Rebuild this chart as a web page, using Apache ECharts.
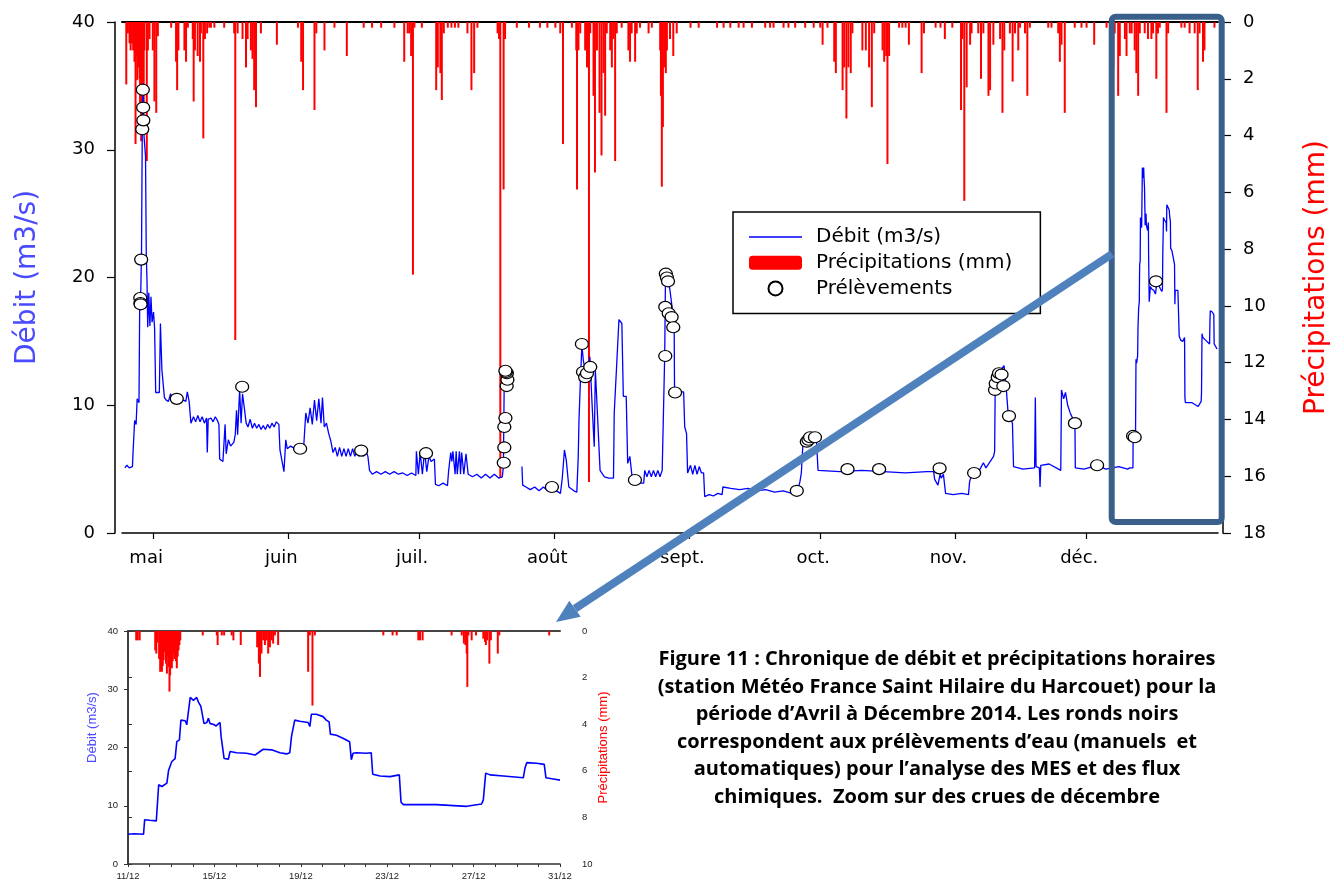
<!DOCTYPE html>
<html><head><meta charset="utf-8">
<script src="https://cdn.jsdelivr.net/npm/echarts@6/dist/echarts.min.js"></script>
<style>html,body{margin:0;padding:0;background:#fff}#c{width:1333px;height:882px}</style>
</head><body><div id="c"></div>
<script>
// ---------- DATA ----------
const monthNames = ['janv.','févr.','mars','avr.','mai','juin','juil.','août','sept.','oct.','nov.','déc.'];

// Débit (m3/s), April -> 10 December 2014, 'MM-DD HH'
const debitMain = [
['04-24 12',5.1],['04-25 00',5.3],['04-25 12',5.1],['04-26 06',5.2],['04-26 09',6.2],['04-26 18',8.8],['04-27 02',8.5],['04-27 08',10.5],['04-27 18',10.2],['04-27 22',18.0],['04-28 04',19.0],['04-28 08',22.0],['04-28 12',31.5],['04-28 16',35.2],['04-28 22',31.0],['04-29 06',29.5],['04-29 10',22.0],['04-29 14',19.8],['04-29 18',16.1],['04-30 00',18.8],['04-30 06',16.2],['04-30 12',18.5],['04-30 18',16.5],
['05-01 02',17.3],['05-01 08',16.0],['05-01 14',11.0],['05-01 20',10.9],['05-02 10',11.0],['05-02 16',16.4],['05-03 00',12.8],['05-03 14',10.6],['05-04 00',10.4],['05-04 12',10.3],['05-05 00',10.9],['05-05 12',10.3],['05-06 00',10.5],['05-06 12',10.2],['05-07 00',10.6],['05-07 12',10.3],['05-08 00',10.4],['05-08 12',10.3],['05-08 20',11.05],['05-09 06',10.3],['05-09 16',8.6],['05-10 06',9.1],['05-10 18',8.7],['05-11 06',9.2],['05-11 18',8.7],['05-12 06',9.1],['05-12 18',8.6],['05-13 06',9.0],['05-13 10',6.3],['05-13 15',8.9],['05-14 06',9.0],['05-14 18',8.7],['05-15 06',9.1],['05-15 18',8.8],['05-16 02',8.5],['05-16 06',5.8],['05-17 00',5.6],['05-17 08',5.5],['05-17 12',8.5],['05-17 18',6.2],['05-18 06',7.3],['05-18 18',6.8],['05-19 12',7.1],['05-19 20',7.7],['05-20 03',9.6],['05-20 09',7.7],['05-20 20',11.2],['05-21 04',8.6],['05-21 12',10.9],['05-21 20',10.0],['05-22 08',8.6],['05-22 18',8.3],['05-23 06',8.9],['05-23 18',8.2],['05-24 06',8.6],['05-24 18',8.2],['05-25 06',8.5],['05-25 18',8.1],['05-26 06',8.4],['05-26 18',8.1],['05-27 06',8.5],['05-27 18',8.2],['05-28 06',8.6],['05-28 18',8.3],['05-29 06',8.7],['05-29 20',8.5],['05-30 02',6.5],['05-30 12',6.4],['05-31 00',4.8],['05-31 10',7.3],['05-31 18',6.6],
['06-01 12',6.8],['06-02 12',6.6],['06-03 12',6.7],['06-04 12',6.6],['06-05 00',9.4],['06-05 12',8.6],['06-06 00',9.8],['06-06 12',8.5],['06-07 00',10.4],['06-07 12',8.8],['06-08 00',10.5],['06-08 12',8.6],['06-08 20',10.6],['06-09 06',8.3],['06-09 18',8.6],['06-10 06',7.8],['06-10 18',7.2],['06-11 06',6.3],['06-11 18',6.7],['06-12 06',6.0],['06-12 18',6.7],['06-13 06',6.0],['06-13 18',6.6],['06-14 06',6.0],['06-14 18',6.6],['06-15 06',6.0],['06-15 18',6.6],['06-16 06',6.0],['06-16 18',6.5],['06-17 06',6.0],['06-17 18',6.5],['06-18 06',6.0],['06-18 18',6.5],['06-19 06',6.0],['06-19 15',4.9],['06-20 06',4.6],['06-21 06',4.8],['06-22 06',4.6],['06-23 06',4.8],['06-24 06',4.6],['06-25 06',4.8],['06-26 06',4.6],['06-27 06',4.7],['06-28 06',4.5],['06-29 06',4.7],['06-30 06',4.5],['06-30 09',6.4],['06-30 20',4.6],
['07-01 06',6.3],['07-01 18',4.6],['07-02 06',6.4],['07-02 18',4.8],['07-03 06',6.0],['07-03 18',5.6],['07-04 12',5.8],['07-04 18',3.8],['07-05 12',3.7],['07-06 12',3.9],['07-07 12',3.7],['07-07 18',4.8],['07-08 06',6.3],['07-08 12',5.6],['07-08 18',6.4],['07-09 06',4.6],['07-09 12',6.4],['07-09 18',4.6],['07-10 06',6.4],['07-10 12',4.6],['07-10 18',6.3],['07-11 06',4.6],['07-11 18',6.2],['07-12 06',4.6],['07-12 18',4.5],['07-13 06',4.4],['07-14 06',4.6],['07-15 06',4.3],['07-16 06',4.6],['07-17 06',4.3],['07-18 06',4.6],['07-19 06',4.3],['07-20 02',4.4],['07-20 08',5.2],['07-20 12',11.2],['07-20 18',12.8],['07-21 06',12.5],['07-21 07',null],['07-24 14',5.2],['07-24 18',3.75],['07-25 12',3.6],['07-26 12',3.4],['07-27 12',3.6],['07-28 12',3.3],['07-29 12',3.6],['07-30 12',3.3],['07-31 12',3.5],
['08-01 12',3.3],['08-02 10',3.1],['08-02 20',4.3],['08-03 08',6.5],['08-03 18',5.7],['08-04 08',3.6],['08-05 12',3.3],['08-06 04',3.2],['08-06 12',6.0],['08-06 16',8.8],['08-07 00',12.0],['08-07 08',14.7],['08-07 16',13.5],['08-08 12',12.0],['08-09 04',13.8],['08-09 16',10.1],['08-10 04',6.75],['08-10 10',12.8],['08-10 20',9.8],['08-11 06',9.8],['08-11 12',4.9],['08-12 12',4.4],['08-13 12',4.3],['08-14 14',4.3],['08-14 18',9.4],['08-15 08',13.3],['08-15 20',16.7],['08-16 12',16.4],['08-16 20',10.7],['08-17 12',10.7],['08-17 20',5.45],['08-18 08',6.0],['08-19 00',3.9],['08-21 12',3.9],['08-21 18',4.9],['08-22 06',4.4],['08-22 18',4.9],['08-23 06',4.4],['08-23 18',4.9],['08-24 06',4.4],['08-24 18',4.9],['08-25 06',4.4],['08-25 18',4.9],['08-26 02',4.8],['08-26 08',14.0],['08-26 12',19.8],['08-27 00',20.2],['08-27 08',19.5],['08-27 20',18.2],['08-28 06',17.0],['08-28 12',16.1],['08-28 14',11.05],['08-30 16',11.05],['08-30 22',8.3],['08-31 08',7.8],['08-31 14',4.7],
['09-01 06',5.3],['09-01 18',4.6],['09-02 06',5.3],['09-02 18',4.6],['09-03 06',5.2],['09-03 18',4.7],['09-04 06',4.7],['09-04 12',2.85],['09-05 12',3.0],['09-06 12',2.9],['09-07 12',3.1],['09-08 12',3.0],['09-08 16',3.6],['09-10 12',3.5],['09-12 12',3.4],['09-14 12',3.5],['09-16 12',3.3],['09-18 12',3.4],['09-20 12',3.2],['09-22 12',3.3],['09-24 12',3.1],['09-25 14',3.0],['09-26 08',4.0],['09-26 16',4.7],['09-27 02',7.3],['09-28 12',7.6],['09-30 02',7.5],['09-30 12',4.9],
['10-05 12',4.8],['10-10 12',4.9],['10-15 12',4.8],['10-20 12',4.7],['10-25 12',4.8],['10-27 00',4.8],['10-27 06',4.2],['10-28 00',3.75],['10-28 12',4.6],['10-28 18',4.3],['10-29 06',4.6],['10-29 18',3.1],['10-31 12',3.0],
['11-02 12',3.1],['11-04 00',3.0],['11-04 06',4.0],['11-04 18',4.6],['11-06 12',4.9],['11-07 10',5.5],['11-08 00',5.1],['11-09 00',5.6],['11-09 18',6.0],['11-10 00',6.4],['11-10 03',11.2],['11-11 00',12.5],['11-11 12',12.8],['11-12 04',13.1],['11-12 16',11.3],['11-13 02',9.4],['11-14 02',8.6],['11-14 08',5.2],['11-16 12',5.0],['11-19 04',5.1],['11-19 08',10.6],['11-19 12',5.2],['11-20 06',5.1],['11-20 10',3.6],['11-20 14',5.3],['11-22 12',5.4],['11-25 04',4.9],['11-25 08',11.2],['11-25 20',10.5],['11-26 06',11.0],['11-26 18',10.0],['11-27 08',9.4],['11-28 10',8.6],['11-28 12',5.1],['11-30 12',5.0],
['12-03 12',5.3],['12-05 12',5.0],['12-08 12',5.2],['12-10 12',5.0]
];

// Débit (m3/s), December flood detail: [days after 11/12 00h, value]
const debitDec = [
[0,5.1],[0.3,5.2],[0.72,5.1],[0.77,7.6],[1.0,7.5],[1.31,7.4],[1.42,13.6],[1.57,13.3],[1.8,13.9],[1.88,16.1],[2.03,17.6],[2.18,18.1],[2.26,21.0],[2.38,21.3],[2.45,24.7],[2.65,24.6],[2.72,23.9],[2.8,23.9],[2.88,28.6],[3.03,28.1],[3.1,27.8],[3.18,28.6],[3.26,27.8],[3.37,27.1],[3.46,25.3],[3.52,24.1],[3.65,24.3],[3.72,25.0],[3.8,24.1],[3.95,24.0],[4.08,23.7],[4.26,24.3],[4.31,21.9],[4.38,21.9],[4.45,18.1],[4.65,18.0],[4.72,19.3],[5.03,19.1],[5.49,19.0],[5.88,18.7],[6.03,19.1],[6.26,19.7],[6.65,19.6],[7.03,19.1],[7.34,18.9],[7.49,19.1],[7.57,21.9],[7.65,21.9],[7.72,24.7],[7.95,24.5],[8.34,24.3],[8.42,23.6],[8.49,25.7],[8.72,25.7],[9.03,25.3],[9.18,24.7],[9.31,24.4],[9.37,22.3],[9.65,22.1],[9.95,21.6],[10.26,21.0],[10.34,17.9],[10.42,19.0],[10.57,19.1],[11.03,19.0],[11.26,19.1],[11.33,15.4],[11.67,15.1],[12.13,15.0],[12.56,15.3],[12.64,10.6],[12.75,10.2],[14.28,10.2],[15.68,9.9],[16.37,10.3],[16.45,11.0],[16.56,15.6],[16.76,15.3],[17.38,15.1],[18.3,14.8],[18.38,16.5],[18.46,17.4],[18.92,17.3],[19.27,17.1],[19.35,14.8],[19.69,14.6],[20.0,14.4]
];

// Précipitations (mm), main chart, 'MM-DD HH'
const rainMain = [
['04-24 20',2.2],['04-25 05',0.4],['04-25 14',0.75],['04-25 20',1.0],['04-26 03',0.75],['04-26 10',1.0],['04-26 17',1.4],['04-26 23',4.3],['04-27 03',1.2],['04-27 08',2.05],['04-27 15',1.6],['04-27 21',2.0],['04-28 00',3.0],['04-28 06',4.2],['04-28 10',3.5],['04-28 15',2.5],['04-28 20',3.0],['04-29 00',1.0],['04-29 13',4.9],['04-29 19',1.0],['04-30 04',0.6],['04-30 22',1.0],['05-01 07',2.8],['05-01 17',3.2],['05-02 02',0.5],
['05-05 03',0.2],['05-06 06',1.4],['05-06 12',2.4],['05-06 19',1.0],['05-08 04',1.0],['05-08 13',1.4],['05-08 23',0.2],['05-10 02',0.6],['05-10 07',2.8],['05-10 14',1.0],['05-11 05',1.2],['05-11 18',1.4],['05-11 23',0.4],['05-12 12',4.1],['05-12 21',0.6],['05-13 09',0.4],['05-13 21',0.2],['05-14 06',0.2],['05-15 01',0.2],['05-17 07',0.2],['05-19 14',0.4],['05-19 20',11.2],['05-20 09',0.4],['05-21 12',0.6],['05-22 07',1.6],['05-22 16',0.6],['05-23 10',1.0],['05-23 19',1.3],['05-24 04',2.4],['05-24 14',3.0],['05-25 17',0.4],['05-29 09',0.8],
['06-03 05',0.2],['06-03 23',1.4],['06-04 09',2.4],['06-07 00',3.1],['06-07 10',0.4],['06-09 07',1.0],['06-11 14',0.2],['06-14 10',1.2],['06-18 07',0.2],['06-20 05',0.2],['06-22 07',0.2],['06-25 08',0.2],['06-27 14',1.4],['06-28 09',0.4],['06-28 18',0.4],['06-29 04',1.2],['06-29 14',8.9],['06-29 22',0.2],
['07-01 15',0.2],['07-04 22',2.4],['07-05 07',1.6],['07-05 21',1.8],['07-06 05',2.75],['07-06 16',0.4],['07-07 14',0.2],['07-08 10',0.2],['07-09 05',0.2],['07-10 00',0.2],['07-12 02',0.4],['07-13 00',2.4],['07-13 15',1.8],['07-14 09',0.2],['07-19 00',0.4],['07-19 08',0.6],['07-19 15',16.05],['07-20 09',5.9],['07-20 17',0.6],['07-23 10',0.2],['07-26 05',0.2],['07-28 17',0.2],['07-30 10',0.2],
['08-01 06',0.2],['08-02 09',0.4],['08-03 00',4.3],['08-05 01',0.2],['08-06 01',1.0],['08-06 05',5.9],['08-06 13',1.0],['08-06 23',0.4],['08-08 02',1.0],['08-08 12',1.6],['08-08 23',16.2],['08-09 06',0.4],['08-10 00',2.6],['08-10 08',5.3],['08-10 19',1.0],['08-11 09',3.2],['08-11 20',4.7],['08-12 07',1.8],['08-12 16',3.3],['08-13 01',0.4],['08-13 20',1.0],['08-14 05',1.6],['08-14 14',0.6],['08-14 23',4.9],['08-15 08',0.4],['08-16 11',0.2],['08-18 00',1.0],['08-18 09',1.4],['08-18 18',0.4],['08-19 13',1.4],['08-19 22',0.4],['08-20 16',0.2],['08-22 15',0.4],['08-23 09',0.2],['08-25 07',1.0],['08-25 11',2.6],['08-25 16',5.8],['08-25 22',3.7],['08-26 05',1.6],['08-26 14',1.8],['08-26 20',1.0],['08-27 13',0.6],['08-28 07',1.2],['08-29 02',0.4],
['09-01 06',0.2],['09-03 03',0.2],['09-07 08',0.2],['09-08 20',0.2],['09-10 09',0.2],['09-12 07',0.2],['09-13 10',0.2],['09-15 08',0.2],['09-18 09',0.2],['09-19 12',0.2],['09-20 07',0.2],['09-22 14',0.2],['09-23 17',0.2],['09-25 06',0.2],['09-27 13',0.2],['09-29 12',0.2],['10-01 00',0.2],
['10-01 13',0.8],['10-02 16',0.2],['10-04 05',1.4],['10-04 14',1.8],['10-06 03',2.4],['10-06 12',1.6],['10-07 00',3.4],['10-07 11',1.6],['10-08 00',1.8],['10-08 09',0.4],['10-10 16',1.0],['10-11 11',1.0],['10-12 05',1.6],['10-12 20',3.0],['10-13 09',0.4],['10-15 07',1.0],['10-15 16',1.4],['10-16 03',1.2],['10-16 10',5.0],['10-16 19',1.2],['10-19 02',0.2],['10-19 20',0.2],['10-20 14',0.2],['10-21 08',0.8],['10-24 06',1.8],['10-24 19',0.4],['10-27 11',0.2],['10-28 14',0.2],['10-29 14',0.6],['10-31 07',0.2],
['11-02 07',3.1],['11-02 14',0.6],['11-03 01',6.3],['11-03 14',2.3],['11-04 09',0.8],['11-04 17',0.4],['11-06 06',0.4],['11-06 21',2.0],['11-07 10',0.4],['11-08 14',2.6],['11-08 23',2.4],['11-09 17',0.8],['11-11 06',0.6],['11-11 19',3.2],['11-12 05',1.0],['11-13 12',0.4],['11-14 03',2.1],['11-14 16',0.4],['11-15 10',1.0],['11-15 20',0.2],['11-16 23',0.4],['11-17 12',2.6],['11-18 02',0.2],['11-22 07',0.2],['11-23 01',0.2],['11-24 14',0.4],['11-24 23',1.4],['11-25 08',0.8],['11-26 02',3.2],['11-28 09',0.2],['11-29 22',0.2],
['12-01 02',0.2],['12-02 20',0.8],['12-05 16',0.2],['12-07 05',1.6],['12-07 13',0.4],['12-08 08',2.6],['12-08 17',1.2],['12-09 21',0.6],['12-10 06',1.2],['12-11 00',0.4],['12-11 10',0.4],['12-12 03',1.0],['12-12 12',1.8],['12-12 22',2.6],['12-13 07',0.4],['12-14 10',0.4],['12-15 04',0.6],['12-15 23',0.6],['12-16 08',0.4],['12-17 02',2.0],['12-17 11',0.4],['12-17 21',0.2],['12-19 10',3.2],['12-19 19',0.4],['12-22 20',0.2],['12-23 14',0.2],['12-24 17',0.4],['12-25 21',0.4],['12-26 14',2.4],['12-27 00',0.4],['12-27 19',1.4],['12-28 03',1.0],['12-30 10',0.2]
];

// Précipitations (mm), December detail: [days after 11/12 00h, mm]
const rainDec = [
[0.38,0.4],[0.45,0.4],[0.54,0.4],[1.26,0.83],[1.31,0.97],[1.36,0.5],[1.44,1.2],[1.49,1.75],[1.53,1.0],[1.57,1.75],[1.61,1.5],[1.65,1.25],[1.69,0.9],[1.72,0.83],[1.76,1.4],[1.8,1.83],[1.84,1.1],[1.88,1.54],[1.92,2.6],[1.95,1.9],[1.98,1.25],[2.03,1.6],[2.07,1.3],[2.11,0.97],[2.15,1.2],[2.18,0.83],[2.22,1.3],[2.26,1.6],[2.3,1.1],[2.34,0.83],[2.38,0.6],[2.42,0.4],
[3.46,0.19],[4.11,0.19],[4.15,0.6],[4.34,0.19],[4.45,0.19],[4.8,0.19],[4.88,0.4],[5.22,0.6],[5.98,0.7],[6.06,1.4],[6.11,1.97],[6.18,0.97],[6.26,0.4],[6.34,0.6],[6.42,0.4],[6.49,0.97],[6.57,0.7],[6.65,0.4],[6.72,0.54],[6.8,0.19],[6.95,0.6],[8.34,1.75],[8.42,0.19],[8.54,3.2],[8.65,0.19],
[11.82,0.19],[12.25,0.19],[12.44,0.19],[13.44,0.4],[13.52,0.4],[13.64,0.4],[14.98,0.19],[15.45,0.19],[15.55,0.54],[15.62,0.6],[15.68,0.97],[15.71,2.4],[15.76,0.19],[15.91,0.4],[16.11,0.19],[16.45,0.33],[16.53,0.47],[16.57,0.6],[16.63,0.4],[16.73,1.4],[16.8,0.4],[17.12,0.97],[17.19,0.19],[19.5,0.19]
];

// Prélèvements (débit at sampling time), 'MM-DD HH'
const samples = [
['04-28 01',18.4],['04-28 02',18.0],['04-28 03',17.9],['04-28 06',21.4],['04-28 12',31.6],['04-28 15',34.7],['04-28 17',33.3],['04-28 18',32.3],
['05-06 10',10.5],['05-21 10',11.45],['06-03 17',6.6],['06-17 17',6.45],['07-02 14',6.25],
['07-20 10',5.5],['07-20 13',6.7],['07-20 13',8.3],['07-20 19',9.0],['07-21 02',11.5],['07-21 06',12.0],['07-21 03',12.5],['07-20 22',12.6],['07-20 19',12.7],
['07-31 11',3.6],['08-07 08',14.8],['08-07 14',12.6],['08-08 02',12.2],['08-08 12',12.5],['08-09 06',13.0],['08-19 12',4.15],
['08-26 11',13.85],['08-26 11',17.7],['08-26 14',20.3],['08-26 20',20.0],['08-27 02',19.7],['08-27 06',17.2],['08-27 22',16.9],['08-28 07',16.1],['08-28 17',11.0],
['09-25 15',3.3],['09-27 22',7.15],['09-28 07',7.3],['09-28 16',7.5],['09-29 19',7.5],
['10-07 06',5.0],['10-14 12',5.0],['10-28 09',5.06],['11-05 07',4.7],
['11-10 02',11.2],['11-10 06',11.7],['11-10 17',12.2],['11-11 00',12.5],['11-11 14',12.4],['11-12 00',11.5],['11-13 07',9.15],
['11-28 10',8.6],['12-03 12',5.3],['12-11 18',7.6],['12-12 03',7.5],['12-17 00',19.7]
];

const caption = [
'Figure 11 : Chronique de débit et précipitations horaires',
'(station Météo France Saint Hilaire du Harcouet) pour la',
'période d’Avril à Décembre 2014. Les ronds noirs',
'correspondent aux prélèvements d’eau (manuels  et',
'automatiques) pour l’analyse des MES et des flux',
'chimiques.  Zoom sur des crues de décembre'
];

// ---------- BUILD ----------
const YEAR = 2014, DAY = 864e5;
function T(s){ const [md,h] = s.split(' '); const [m,d] = md.split('-').map(Number); return new Date(YEAR, m-1, d, +h).getTime(); }
const DEC11 = new Date(YEAR, 11, 11).getTime();
const mainLine = debitMain.map(([s,v]) => [T(s), v == null ? '-' : v])
  .concat(debitDec.map(([d,v]) => [DEC11 + d*DAY, v]));
const mainRain = rainMain.map(([s,v]) => [T(s), v]);
const mainSamples = samples.map(([s,v]) => [T(s), v]);
const xMin = T('04-24 02'), xMax = new Date(YEAR, 11, 31).getTime();

const F = 'DejaVu Sans', FI = 'Liberation Sans';
const chart = echarts.init(document.getElementById('c'), null, {renderer:'canvas'});
chart.setOption({
  animation:false,
  backgroundColor:'#fff',
  title:{
    text: caption.join('\n'), left: 937, top: 646, textAlign:'center', padding:0,
    textStyle:{fontFamily:'Open Sans', fontWeight:'bold', fontSize:20, lineHeight:27.5, color:'#000'}
  },
  legend:{
    data:[
      {name:'Débit (m3/s)', icon:'path://M0,0H53V1.3H0Z', itemStyle:{color:'#0000ff'}},
      {name:'Précipitations (mm)'},
      {name:'Prélèvements'}
    ],
    orient:'vertical', left:733, top:212, padding:[15,28,15,16], itemGap:5.7,
    itemWidth:53, itemHeight:14, borderColor:'#000', borderWidth:1.5, backgroundColor:'#fff',
    selectedMode:false,
    textStyle:{fontFamily:F, fontSize:20, color:'#000', lineHeight:20, padding:[0,0,0,9]}
  },
  grid:[
    {left:122, right:115, top:22, height:511, outerBoundsMode:'none', containLabel:false},
    {left:128, right:773, top:631, height:233, outerBoundsMode:'none', containLabel:false}
  ],
  xAxis:[
    {gridIndex:0, type:'time', min:xMin, max:xMax, minInterval:28*DAY, maxInterval:31*DAY,
     axisLine:{lineStyle:{color:'#000', width:1.5}},
     axisTick:{length:6, lineStyle:{color:'#000', width:1.2}},
     axisLabel:{formatter:v => monthNames[new Date(v).getMonth()], fontFamily:F, fontSize:18, color:'#000', margin:16, padding:[0,14,0,0], showMinLabel:false, showMaxLabel:false},
     splitLine:{show:false}},
    {gridIndex:0, type:'time', position:'top', min:xMin, max:xMax,
     axisLine:{lineStyle:{color:'#000', width:2}}, axisTick:{show:false}, axisLabel:{show:false}, splitLine:{show:false}},
    {gridIndex:1, type:'value', min:0, max:20, interval:1,
     axisLine:{lineStyle:{color:'#333', width:1.5}},
     axisTick:{length:3, lineStyle:{color:'#333'}},
     axisLabel:{formatter:v => (v % 4 === 0) ? (11+v) + '/12' : '', fontFamily:FI, fontSize:9.5, color:'#222', margin:7},
     splitLine:{show:false}},
    {gridIndex:1, type:'value', position:'top', min:0, max:20,
     axisLine:{lineStyle:{color:'#444', width:2}}, axisTick:{show:false}, axisLabel:{show:false}, splitLine:{show:false}}
  ],
  yAxis:[
    {gridIndex:0, type:'value', position:'left', offset:7, min:0, max:40, interval:10,
     name:'Débit (m3/s)', nameLocation:'middle', nameRotate:90, nameGap:73,
     nameTextStyle:{color:'#4a4aff', fontSize:28, fontFamily:F},
     axisLine:{show:true, lineStyle:{color:'#000', width:1.5}},
     axisTick:{show:true, length:8, lineStyle:{color:'#000', width:1.2}},
     axisLabel:{fontFamily:F, fontSize:18, color:'#000', margin:20}, splitLine:{show:false}},
    {gridIndex:0, type:'value', position:'right', offset:5, min:0, max:18, interval:2, inverse:true,
     name:'Précipitations (mm)', nameLocation:'middle', nameRotate:90, nameGap:80,
     nameTextStyle:{color:'#ff0000', fontSize:28, fontFamily:F},
     axisLine:{show:true, lineStyle:{color:'#000', width:1.5}},
     axisTick:{show:true, length:8, lineStyle:{color:'#000', width:1.2}},
     axisLabel:{fontFamily:F, fontSize:18, color:'#000', margin:20}, splitLine:{show:false}},
    {gridIndex:1, type:'value', position:'left', offset:2, min:0, max:40, interval:10,
     name:'Débit (m3/s)', nameLocation:'middle', nameRotate:90, nameGap:27,
     nameTextStyle:{color:'#4a4aff', fontSize:13, fontFamily:FI, padding:[0,0,0,40]},
     axisLine:{show:true, lineStyle:{color:'#333', width:1.5}},
     axisTick:{show:true, length:4, lineStyle:{color:'#333'}},
     axisLabel:{fontFamily:FI, fontSize:9.5, color:'#222', margin:8}, splitLine:{show:false}},
    {gridIndex:1, type:'value', position:'right', offset:10, min:0, max:10, interval:2, inverse:true,
     name:'Précipitations (mm)', nameLocation:'middle', nameRotate:90, nameGap:27,
     nameTextStyle:{color:'#ff0000', fontSize:13, fontFamily:FI},
     axisLine:{show:true, lineStyle:{color:'#333', width:1.5}},
     axisTick:{show:true, length:4, lineStyle:{color:'#333'}},
     axisLabel:{fontFamily:FI, fontSize:9.5, color:'#222', margin:12}, splitLine:{show:false}}
  ],
  series:[
    {name:'Précipitations (mm)', type:'bar', xAxisIndex:0, yAxisIndex:1, barWidth:2, data:mainRain,
     itemStyle:{color:'#ff0000', borderColor:'#ff0000', borderWidth:0}, z:1},
    {name:'Débit (m3/s)', type:'line', xAxisIndex:0, yAxisIndex:0, data:mainLine, showSymbol:false, symbol:'none',
     connectNulls:false, lineStyle:{color:'#0000ff', width:1.3}, itemStyle:{color:'#0000ff'}, z:2},
    {name:'Prélèvements', type:'scatter', xAxisIndex:0, yAxisIndex:0, data:mainSamples, symbol:'circle', symbolSize:[13,11],
     itemStyle:{color:'#fff', borderColor:'#000', borderWidth:1.2, opacity:1}, z:3},
    {name:'Précipitations zoom', type:'bar', xAxisIndex:2, yAxisIndex:3, barWidth:2, data:rainDec,
     itemStyle:{color:'#ff0000'}, z:1},
    {name:'Débit zoom', type:'line', xAxisIndex:2, yAxisIndex:2, data:debitDec, showSymbol:false, symbol:'none',
     lineStyle:{color:'#0000ff', width:1.6}, z:2}
  ],
  graphic:[
    {type:'rect', z:100, shape:{x:1111.7, y:16.7, width:110, height:505.3, r:4}, style:{fill:'none', stroke:'#3a5f8b', lineWidth:6}},
    {type:'line', z:100, shape:{x1:1112, y1:254, x2:575, y2:608.7}, style:{stroke:'#4f81bd', lineWidth:8}},
    {type:'polygon', z:100, shape:{points:[[556,622],[569.3,600.7],[580.7,616.7]]}, style:{fill:'#4f81bd'}}
  ]
});
</script></body></html>
